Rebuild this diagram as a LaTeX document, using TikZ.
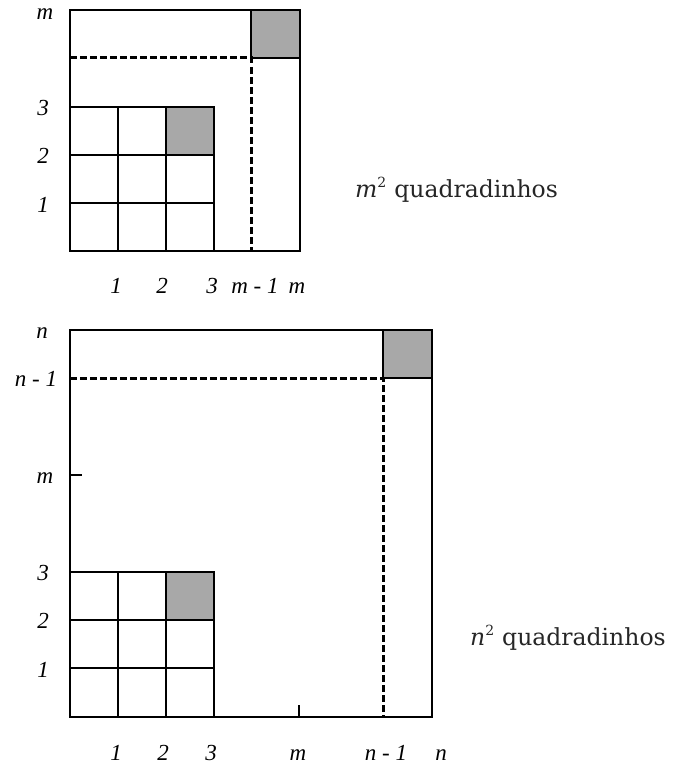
\documentclass[tikz,border=0pt]{standalone}
\usepackage{fontspec}
\setmainfont{Liberation Serif}
\newfontfamily\capfont{DejaVu Serif}
\begin{document}
\begin{tikzpicture}[x=1pt,y=-1pt,
  cellline/.style={line width=2.5pt},
  dashline/.style={line width=3pt,dash pattern=on 6.5pt off 3.5pt},
  shade/.style={fill=gray!68!white,draw=black,line width=2.5pt},
  tickline/.style={line width=2pt},
  lab/.style={font=\fontsize{23}{23}\selectfont\itshape,anchor=base,inner sep=0pt},
  captext/.style={font=\capfont\fontsize{23.5}{23.5}\selectfont,anchor=base west,inner sep=0pt,text=black!85}]
\useasboundingbox (0,0) rectangle (681,768);
% ---------- top figure ----------
\coordinate (A0) at (70,251);
\coordinate (A1) at (300,10);
\coordinate (AD) at (251,58);
\filldraw[shade] (251,10) rectangle (300,58);
\filldraw[shade] (166,107) rectangle (214,155);
\draw[cellline] (A0) rectangle (A1);
\draw[cellline] (70,107) -- (214,107) -- (214,251);
\draw[cellline] (70,155) -- (214,155);
\draw[cellline] (70,203) -- (214,203);
\draw[cellline] (118,107) -- (118,251);
\draw[cellline] (166,107) -- (166,251);
\draw[dashline] (70,58) -- (AD) -- (251,251);
\node[lab] (tm) at (45,20) {m};
\node[lab] (t3) at (43,115) {3};
\node[lab] (t2) at (43,163) {2};
\node[lab] (t1) at (43,212) {1};
\node[lab] (b1) at (116,293) {1};
\node[lab] (b2) at (162,293) {2};
\node[lab] (b3) at (212,293) {3};
\node[lab] (bm1) at (255,293) {m - 1};
\node[lab] (bm) at (297,293) {m};
\node[captext] (capm) at (355,197) {\itshape m\textsuperscript{\upshape\fontsize{14}{14}\selectfont 2}\upshape\ quadradinhos};
% ---------- bottom figure ----------
\coordinate (B0) at (70,717);
\coordinate (B1) at (432,330);
\coordinate (BD) at (383,378);
\filldraw[shade] (383,330) rectangle (432,378);
\filldraw[shade] (166,572) rectangle (214,620);
\draw[cellline] (B0) rectangle (B1);
\draw[cellline] (70,572) -- (214,572) -- (214,717);
\draw[cellline] (70,620) -- (214,620);
\draw[cellline] (70,668) -- (214,668);
\draw[cellline] (118,572) -- (118,717);
\draw[cellline] (166,572) -- (166,717);
\draw[dashline] (70,378) -- (BD) -- (383,717);
\draw[tickline] (70,475) -- (82,475);
\draw[tickline] (299,705) -- (299,717);
\node[lab] (ln) at (42,338) {n};
\node[lab] (ln1) at (36,386) {n - 1};
\node[lab] (lm) at (45,483) {m};
\node[lab] (l3) at (43,580) {3};
\node[lab] (l2) at (43,628) {2};
\node[lab] (l1) at (43,677) {1};
\node[lab] (c1) at (116,760) {1};
\node[lab] (c2) at (163,760) {2};
\node[lab] (c3) at (211,760) {3};
\node[lab] (cm) at (298,760) {m};
\node[lab] (cn1) at (386,760) {n - 1};
\node[lab] (cn) at (441,760) {n};
\node[captext] (capn) at (470,645) {\itshape n\textsuperscript{\upshape\fontsize{14}{14}\selectfont 2}\upshape\ quadradinhos};
\end{tikzpicture}
\end{document}
